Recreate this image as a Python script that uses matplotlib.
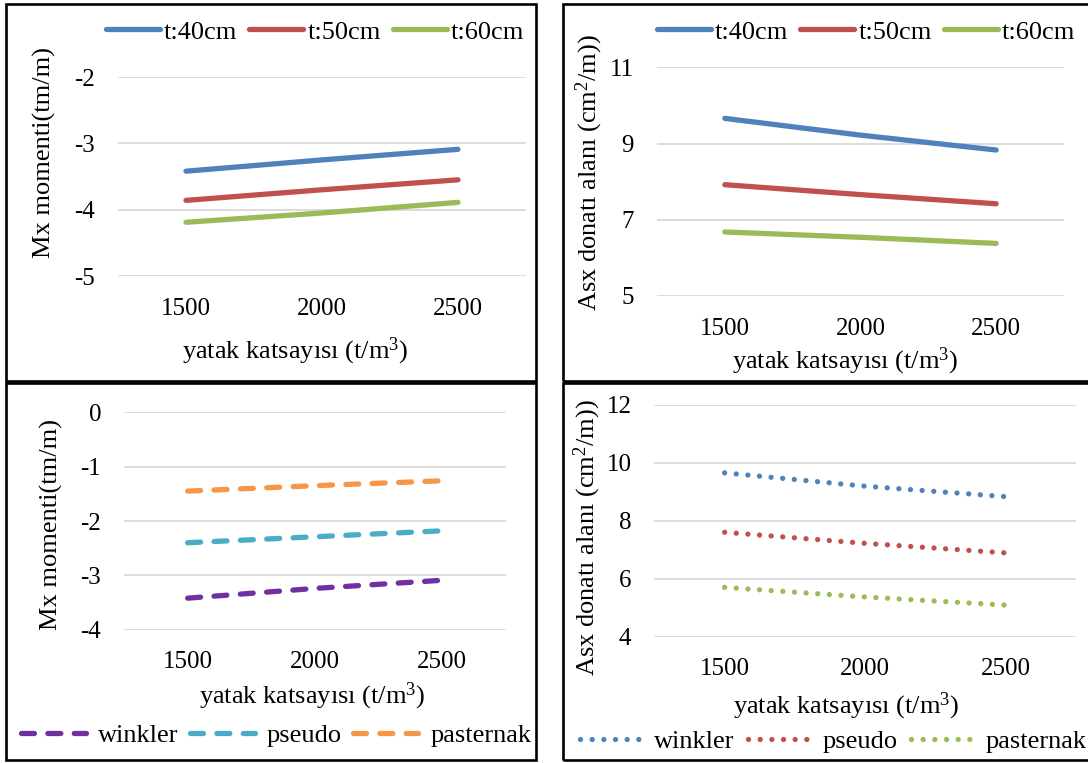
import matplotlib
matplotlib.use("Agg")
import matplotlib.pyplot as plt
from matplotlib.patches import Rectangle
from matplotlib.lines import Line2D

plt.rcParams['font.family'] = ['Liberation Serif', 'DejaVu Serif']
plt.rcParams['mathtext.fontset'] = 'custom'
plt.rcParams['mathtext.rm'] = 'Liberation Serif'

# ---------------- data ----------------
x_labels = ['1500', '2000', '2500']

t_labels = ['t:40cm', 't:50cm', 't:60cm']
mx_t40 = [-3.42, -3.25, -3.09]
mx_t50 = [-3.86, -3.70, -3.55]
mx_t60 = [-4.19, -4.05, -3.89]

asx_t40 = [9.66, 9.22, 8.83]
asx_t50 = [7.92, 7.66, 7.42]
asx_t60 = [6.68, 6.54, 6.38]

f_labels = ['winkler', 'pseudo', 'pasternak']
mx_winkler = [-3.42, -3.24, -3.09]
mx_pseudo = [-2.40, -2.29, -2.18]
mx_pasternak = [-1.45, -1.35, -1.26]

asx_winkler = [9.65, 9.19, 8.83]
asx_pseudo = [7.60, 7.22, 6.89]
asx_pasternak = [5.70, 5.37, 5.09]

mx_ticks_top = [-5, -4, -3, -2]
asx_ticks_top = [5, 7, 9, 11]
mx_ticks_bot = [-4, -3, -2, -1, 0]
asx_ticks_bot = [4, 6, 8, 10, 12]

xlabel = 'yatak katsayısı (t/m$\\mathregular{^3}$)'
ylab_mx = 'Mx momenti(tm/m)'
ylab_asx = 'Asx donatı alanı (cm$\\mathregular{^2}$/m))'

# ---------------- styling ----------------
W, H = 1088, 763
fig = plt.figure(figsize=(W / 100, H / 100), dpi=100)

BLUE, RED, GREEN = '#4F81BD', '#C0504D', '#9BBB59'
PURPLE, CYAN, ORANGE = '#7030A0', '#4BACC6', '#F79646'
GRID = '#D9D9D9'
TICK_FS = 18
TXT_FS = 19
LW = 3.8


def px_axes(x0, x1, y0, y1):
    return fig.add_axes([x0 / W, 1 - y1 / H, (x1 - x0) / W, (y1 - y0) / H])


def style_axes(ax, ylim, yticks, xpad):
    ax.set_xlim(-0.5, len(x_labels) - 0.5)
    ax.set_ylim(*ylim)
    ax.set_xticks(range(len(x_labels)))
    ax.set_xticklabels(x_labels)
    ax.set_yticks(yticks)
    ax.set_yticklabels([str(v) for v in yticks])
    for s in ax.spines.values():
        s.set_visible(False)
    ax.grid(axis='y', color=GRID, lw=1.3)
    ax.set_axisbelow(True)
    ax.tick_params(axis='both', length=0, labelsize=TICK_FS)
    ax.tick_params(axis='x', pad=xpad)
    ax.tick_params(axis='y', pad=16.5)
    ax.patch.set_alpha(0)


def border(x0, x1, y0, y1):
    fig.add_artist(Rectangle((x0 / W, 1 - y1 / H), (x1 - x0) / W, (y1 - y0) / H,
                             transform=fig.transFigure, fill=False,
                             ec='black', lw=1.9))


def ftext(x, y, s, **kw):
    fig.text(x / W, 1 - y / H, s, fontsize=TXT_FS, **kw)


border(6, 536, 4, 381)
border(563, 1095, 4, 381)
border(6, 536, 382.5, 760)
border(563, 1095, 382.5, 760)

xs = list(range(len(x_labels)))
dash = (0, (2.45, 2.55))
dot = (0, (0.01, 2.2))

# ---- top-left ----
ax1 = px_axes(118, 526, 77, 276)
style_axes(ax1, (-5, -2), mx_ticks_top, 15.5)
for vals, c in zip([mx_t40, mx_t50, mx_t60], [BLUE, RED, GREEN]):
    ax1.plot(xs, vals, color=c, lw=LW, solid_capstyle='round')
ftext(295, 358, xlabel, ha='center', va='baseline')
ftext(44.6, 152.5, ylab_mx, ha='center', va='center', rotation=90)

# ---- top-right ----
ax2 = px_axes(657, 1064, 67.3, 296)
style_axes(ax2, (5, 11), asx_ticks_top, 15.5)
for vals, c in zip([asx_t40, asx_t50, asx_t60], [BLUE, RED, GREEN]):
    ax2.plot(xs, vals, color=c, lw=LW, solid_capstyle='round')
ftext(845, 368, xlabel, ha='center', va='baseline')
ftext(589, 173, ylab_asx, ha='center', va='center', rotation=90)

# ---- bottom-left ----
ax3 = px_axes(124, 506, 412.3, 629.7)
style_axes(ax3, (-4, 0), mx_ticks_bot, 15.5)
for vals, c in zip([mx_winkler, mx_pseudo, mx_pasternak], [PURPLE, CYAN, ORANGE]):
    ax3.plot(xs, vals, color=c, lw=LW, ls=dash, dash_capstyle='round')
ftext(312.5, 703, xlabel, ha='center', va='baseline')
ftext(51.8, 524.5, ylab_mx, ha='center', va='center', rotation=90)

# ---- bottom-right ----
ax4 = px_axes(654.4, 1075.6, 404.7, 636.7)
style_axes(ax4, (4, 12), asx_ticks_bot, 15.5)
for vals, c in zip([asx_winkler, asx_pseudo, asx_pasternak], [BLUE, RED, GREEN]):
    ax4.plot(xs, vals, color=c, lw=LW, ls=dot, dash_capstyle='round')
ftext(845.7, 713, xlabel, ha='center', va='baseline')
ftext(587.2, 538, ylab_asx, ha='center', va='center', rotation=90)

# ---------------- legends ----------------
def legend(colors, labels, cx, cy, ls, hl, htp, cs, capkw):
    handles = [Line2D([0], [0], color=c, lw=LW, ls=ls, **capkw) for c in colors]
    fig.legend(handles, labels, loc='center', bbox_to_anchor=(cx / W, 1 - cy / H),
               ncol=3, frameon=False, fontsize=TXT_FS, handlelength=hl,
               handletextpad=htp, columnspacing=cs, borderpad=0, borderaxespad=0)


legend([BLUE, RED, GREEN], t_labels, 315, 32, '-', 2.05, 0.15, 0.45,
       dict(solid_capstyle='round'))
legend([BLUE, RED, GREEN], t_labels, 866, 32, '-', 2.05, 0.15, 0.45,
       dict(solid_capstyle='round'))
legend([PURPLE, CYAN, ORANGE], f_labels, 276, 735.7, dash, 2.46, 0.45, 0.44,
       dict(dash_capstyle='round'))
legend([BLUE, RED, GREEN], f_labels, 833, 741.7, dot, 2.3, 0.5, 0.53,
       dict(dash_capstyle='round'))

fig.savefig('out.png', dpi=100)
